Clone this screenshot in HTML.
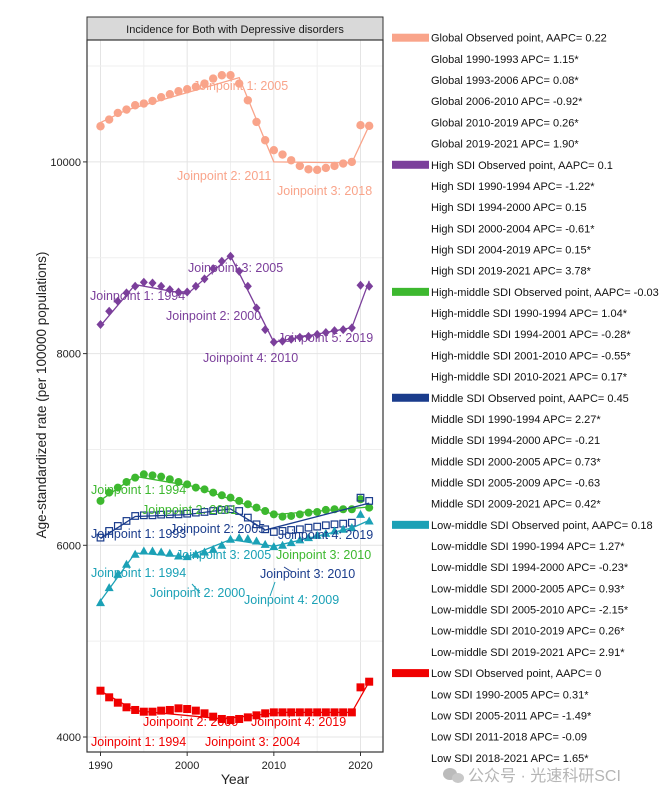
<!DOCTYPE html>
<html><head><meta charset="utf-8">
<style>
body{margin:0;background:#fff;width:668px;height:800px;overflow:hidden;font-family:"Liberation Sans","Noto Sans CJK SC",sans-serif;}
svg{display:block}
</style></head>
<body>
<svg id="chart" width="668" height="800" xmlns="http://www.w3.org/2000/svg" font-family="Liberation Sans, Noto Sans CJK SC, sans-serif"></svg>
<script>
const years=[1990,1991,1992,1993,1994,1995,1996,1997,1998,1999,2000,2001,2002,2003,2004,2005,2006,2007,2008,2009,2010,2011,2012,2013,2014,2015,2016,2017,2018,2019,2020,2021];
const globalVals=[10372,10442,10511,10546,10591,10609,10636,10675,10706,10737,10758,10783,10817,10869,10904,10904,10817,10643,10417,10226,10122,10077,10017,9958,9923,9917,9937,9958,9983,10000,10383,10376];
const highVals=[8303,8442,8546,8633,8703,8744,8737,8703,8668,8643,8643,8703,8779,8887,8963,9016,8859,8703,8476,8250,8120,8130,8150,8170,8180,8200,8220,8240,8250,8268,8713,8703];
const highMidVals=[6463,6550,6602,6661,6706,6741,6730,6716,6689,6661,6636,6602,6584,6550,6522,6497,6463,6428,6393,6358,6323,6299,6306,6323,6341,6348,6369,6376,6376,6376,6480,6393];
const middleVals=[6080,6150,6202,6254,6306,6313,6313,6320,6323,6323,6330,6341,6348,6358,6369,6376,6358,6289,6219,6167,6139,6150,6160,6167,6184,6195,6209,6219,6226,6236,6497,6463];
const lowMidVals=[5402,5558,5697,5802,5906,5941,5941,5930,5917,5889,5882,5906,5930,5958,6000,6063,6080,6070,6045,6010,5986,6000,6028,6056,6080,6104,6125,6150,6167,6184,6323,6254];
const lowVals=[4483,4414,4358,4310,4282,4264,4264,4275,4282,4299,4292,4275,4247,4212,4188,4177,4188,4205,4226,4247,4257,4257,4257,4257,4257,4257,4257,4257,4257,4257,4518,4577];
const globalFitYears=[1990,1993,2006,2010,2019,2021];
const globalFitVals=[10410,10540,10880,10000,9990,10380];
const highFitYears=[1990,1994,2000,2005,2010,2019,2021];
const highFitVals=[8290,8720,8620,9020,8120,8270,8760];
const highMidFitYears=[1990,1994,2001,2010,2021];
const highMidFitVals=[6470,6720,6610,6320,6400];
const middleFitYears=[1990,1994,2000,2005,2009,2021];
const middleFitVals=[6070,6300,6320,6380,6160,6440];
const lowMidFitYears=[1990,1994,2000,2005,2010,2019,2021];
const lowMidFitVals=[5420,5920,5880,6060,5990,6180,6260];
const lowFitYears=[1990,1994,2004,2011,2019,2021];
const lowFitVals=[4480,4275,4190,4257,4257,4577];
const yTicks=[4000,6000,8000,10000];
const xTicks=[1990,2000,2010,2020];
const legendRows=[
["sw","#F9A48A","Global Observed point, AAPC= 0.22"],["","","Global 1990-1993 APC= 1.15*"],["","","Global 1993-2006 APC= 0.08*"],["","","Global 2006-2010 APC= -0.92*"],["","","Global 2010-2019 APC= 0.26*"],["","","Global 2019-2021 APC= 1.90*"],
["sw","#7B3F9B","High SDI Observed point, AAPC= 0.1"],["","","High SDI 1990-1994 APC= -1.22*"],["","","High SDI 1994-2000 APC= 0.15"],["","","High SDI 2000-2004 APC= -0.61*"],["","","High SDI 2004-2019 APC= 0.15*"],["","","High SDI 2019-2021 APC= 3.78*"],
["sw","#3DB82F","High-middle SDI Observed point, AAPC= -0.03"],["","","High-middle SDI 1990-1994 APC= 1.04*"],["","","High-middle SDI 1994-2001 APC= -0.28*"],["","","High-middle SDI 2001-2010 APC= -0.55*"],["","","High-middle SDI 2010-2021 APC= 0.17*"],
["sw","#1A3C8C","Middle SDI Observed point, AAPC= 0.45"],["","","Middle SDI 1990-1994 APC= 2.27*"],["","","Middle SDI 1994-2000 APC= -0.21"],["","","Middle SDI 2000-2005 APC= 0.73*"],["","","Middle SDI 2005-2009 APC= -0.63"],["","","Middle SDI 2009-2021 APC= 0.42*"],
["sw","#1BA1B6","Low-middle SDI Observed point, AAPC= 0.18"],["","","Low-middle SDI 1990-1994 APC= 1.27*"],["","","Low-middle SDI 1994-2000 APC= -0.23*"],["","","Low-middle SDI 2000-2005 APC= 0.93*"],["","","Low-middle SDI 2005-2010 APC= -2.15*"],["","","Low-middle SDI 2010-2019 APC= 0.26*"],["","","Low-middle SDI 2019-2021 APC= 2.91*"],
["sw","#F00000","Low SDI Observed point, AAPC= 0"],["","","Low SDI 1990-2005 APC= 0.31*"],["","","Low SDI 2005-2011 APC= -1.49*"],["","","Low SDI 2011-2018 APC= -0.09"],["","","Low SDI 2018-2021 APC= 1.65*"]];

const svg=document.getElementById('chart');
const NS='http://www.w3.org/2000/svg';
const PL=87,PR=383,PT=40,PB=752;
function xs(y){return 100.5+(y-1990)*8.667;}
function ys(v){return 737-(v-4000)*0.09585;}
function mk(tag,attrs,parent){const e=document.createElementNS(NS,tag);for(const k in attrs)e.setAttribute(k,attrs[k]);(parent||svg).appendChild(e);return e;}

// panel background & grid
const panel=mk('rect',{x:PL,y:PT,width:PR-PL,height:PB-PT,fill:'#fff'});


const grid=mk('g',{});


for(let yr=1990;yr<=2020;yr+=5){mk('line',{x1:xs(yr),x2:xs(yr),y1:PT,y2:PB,stroke:yr%10==0?'#e4e4e4':'#efefef','stroke-width':1},grid);}
for(let v=4000;v<=11000;v+=1000){mk('line',{x1:PL,x2:PR,y1:ys(v),y2:ys(v),stroke:v%2000==0?'#e4e4e4':'#efefef','stroke-width':1},grid);}

// strip
const strip=mk('rect',{x:PL,y:17,width:PR-PL,height:PT-17,fill:'#d9d9d9',stroke:'#333','stroke-width':1});


const st=mk('text',{x:(PL+PR)/2,y:33,'text-anchor':'middle','font-size':11,fill:'#1a1a1a'});
st.textContent='Incidence for Both with Depressive disorders';



function series(name,vals,fy,fv,color,shape){
  const g=mk('g',{});
  
  
  const pts=fy.map((y,i)=>xs(y).toFixed(1)+','+ys(fv[i]).toFixed(1)).join(' ');
  const ln=mk('polyline',{points:pts,fill:'none',stroke:color,'stroke-width':1.3},g);
  
  
  vals.forEach((v,i)=>{
    const cx=xs(years[i]),cy=ys(v);let e;
    if(shape=='circle')e=mk('circle',{cx:cx,cy:cy,r:4.2,fill:color},g);
    else if(shape=='diamond')e=mk('polygon',{points:`${cx},${cy-4.5} ${cx+4},${cy} ${cx},${cy+4.5} ${cx-4},${cy}`,fill:color},g);
    else if(shape=='hex')e=mk('circle',{cx:cx,cy:cy,r:4,fill:color},g);
    else if(shape=='opensq')e=mk('rect',{x:cx-3.3,y:cy-3.3,width:6.6,height:6.6,fill:'none',stroke:color,'stroke-width':1.2},g);
    else if(shape=='tri')e=mk('polygon',{points:`${cx},${cy-4.5} ${cx+4.5},${cy+3.5} ${cx-4.5},${cy+3.5}`,fill:color},g);
    else e=mk('rect',{x:cx-4,y:cy-4,width:8,height:8,fill:color},g);
    
    
  });
}
series('global',globalVals,globalFitYears,globalFitVals,'#F9A48A','circle');
series('high-sdi',highVals,highFitYears,highFitVals,'#7B3F9B','diamond');
series('high-middle-sdi',highMidVals,highMidFitYears,highMidFitVals,'#3DB82F','hex');
series('middle-sdi',middleVals,middleFitYears,middleFitVals,'#1A3C8C','opensq');
series('low-middle-sdi',lowMidVals,lowMidFitYears,lowMidFitVals,'#1BA1B6','tri');
series('low-sdi',lowVals,lowFitYears,lowFitVals,'#F00000','square');

// joinpoint labels [text,x,y,color]
const jl=[
['Joinpoint 1: 2005',193,90,'#F9A48A'],['Joinpoint 2: 2011',177,180,'#F9A48A'],['Joinpoint 3: 2018',277,195,'#F9A48A'],
['Joinpoint 3: 2005',188,272,'#7B3F9B'],['Joinpoint 1: 1994',90,300,'#7B3F9B'],['Joinpoint 2: 2000',166,320,'#7B3F9B'],['Joinpoint 5: 2019',278,342,'#7B3F9B'],['Joinpoint 4: 2010',203,362,'#7B3F9B'],
['Joinpoint 1: 1994',91,494,'#3DB82F'],['Joinpoint 2: 2001',142,514,'#3DB82F'],['Joinpoint 3: 2010',276,559,'#3DB82F'],
['Joinpoint 1: 1993',91,538,'#1A3C8C'],['Joinpoint 2: 2005',170,533,'#1A3C8C'],['Joinpoint 4: 2019',278,539,'#1A3C8C'],['Joinpoint 3: 2010',260,578,'#1A3C8C'],
['Joinpoint 3: 2005',176,559,'#1BA1B6'],['Joinpoint 1: 1994',91,577,'#1BA1B6'],['Joinpoint 2: 2000',150,597,'#1BA1B6'],['Joinpoint 4: 2009',244,604,'#1BA1B6'],
['Joinpoint 2: 2000',143,726,'#F00000'],['Joinpoint 4: 2019',251,726,'#F00000'],['Joinpoint 1: 1994',91,746,'#F00000'],['Joinpoint 3: 2004',205,746,'#F00000']];
jl.forEach(d=>{const t=mk('text',{x:d[1],y:d[2],'font-size':12.5,fill:d[3]});t.textContent=d[0];

});
// leader lines
[[192,584,200,593,'#1BA1B6'],[275,582,270,596,'#1BA1B6'],[284,567,292,572,'#1A3C8C'],[195,586,195,590,'#1BA1B6']].forEach(l=>mk('line',{x1:l[0],y1:l[1],x2:l[2],y2:l[3],stroke:l[4],'stroke-width':1}));

// panel border
const bd=mk('rect',{x:PL,y:PT,width:PR-PL,height:PB-PT,fill:'none',stroke:'#333','stroke-width':1.2});



// axes ticks
yTicks.forEach(v=>{mk('line',{x1:PL-4,x2:PL,y1:ys(v),y2:ys(v),stroke:'#333'});
const t=mk('text',{x:PL-6,y:ys(v)+4,'text-anchor':'end','font-size':11,fill:'#222'});t.textContent=v;

});
xTicks.forEach(v=>{mk('line',{x1:xs(v),x2:xs(v),y1:PB,y2:PB+4,stroke:'#333'});
const t=mk('text',{x:xs(v),y:PB+17,'text-anchor':'middle','font-size':11,fill:'#222'});t.textContent=v;

});
const xt=mk('text',{x:235,y:784,'text-anchor':'middle','font-size':14,fill:'#222'});xt.textContent='Year';


const yt=mk('text',{x:0,y:0,'text-anchor':'middle','font-size':13.5,fill:'#222',transform:'translate(46,395) rotate(-90)'});yt.textContent='Age-standardized rate (per 100000 populations)';



// legend
legendRows.forEach((r,i)=>{const y=37.7+i*21.18;
 const g=mk('g',{});
 
 
 if(r[0]=='sw')mk('rect',{x:392,y:y-4,width:37,height:8,fill:r[1]},g);
 const t=mk('text',{x:431,y:y+4,'font-size':11,fill:'#111'},g);t.textContent=r[2];});

// watermark
const wm=mk('g',{});


mk('ellipse',{cx:450,cy:774,rx:7,ry:6,fill:'#bbb'},wm);
mk('ellipse',{cx:458,cy:778,rx:6,ry:5,fill:'#c8c8c8'},wm);
const wt=mk('text',{x:468,y:781,'font-size':16,fill:'#b5b5b5'},wm);wt.textContent='公众号 · 光速科研SCI';
</script>
</body></html>
